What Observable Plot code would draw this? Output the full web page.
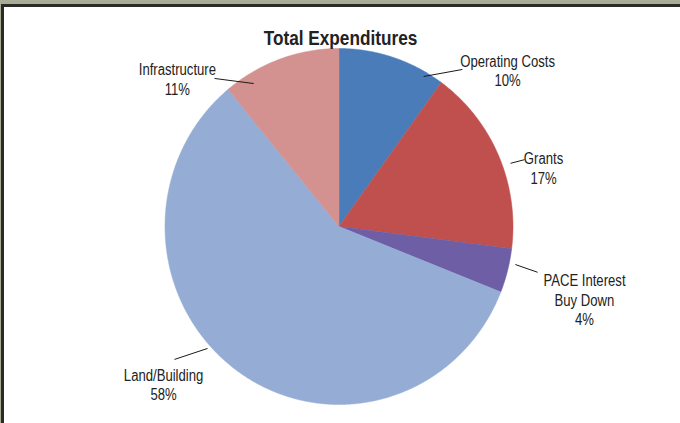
<!DOCTYPE html>
<html>
<head>
<meta charset="utf-8">
<script src="https://cdn.jsdelivr.net/npm/d3@7"></script>
<script src="https://cdn.jsdelivr.net/npm/@observablehq/plot@0.6"></script>
<style>
  html, body { margin: 0; padding: 0; background: #fff; overflow: hidden; }
  #wrap { position: relative; width: 680px; height: 423px; }
  #wrap svg { position: absolute; left: 0; top: 0; }
  .band-top { position: absolute; left: 0; top: 0; width: 680px; height: 4px; background: #a9ad97; }
  .line-top { position: absolute; left: 1px; top: 4px; width: 679px; height: 3px; background: #2a2a26; }
  .band-left { position: absolute; left: 0; top: 0; width: 1px; height: 423px; background: #a9ad97; }
  .line-left { position: absolute; left: 1px; top: 4px; width: 3px; height: 419px; background: #2a2a26; }
</style>
</head>
<body>
<div id="wrap"></div>
<script>
// ---- data ----
const categories = ["Operating Costs", "Grants", "PACE Interest Buy Down", "Land/Building", "Infrastructure"];
const labelTexts = ["Operating Costs", "Grants", "PACE Interest\nBuy Down", "Land/Building", "Infrastructure"];
const shares = [10, 17, 4, 58, 11];
const colors = ["#4b7cba", "#c0504d", "#6d5ea6", "#95add5", "#d39290"];
const titleText = "Total Expenditures";

// ---- label layout (polar: degrees clockwise from top, radius in pie radii) ----
const labelAngle = [47.8, 74.3, 106.2, 228.7, 311.8];
const labelRadius = [1.308, 1.221, 1.469, 1.342, 1.246];
const leaderStartAngle = [30.0, 70.2, 101.9, 227.8, 328.6];
const leaderStartRadius = [0.973, 1.048, 1.036, 1.020, 0.941];
const leaderEndAngle = [38.8, 70.6, 102.7, 231.7, 319.3];
const leaderEndRadius = [1.132, 1.13, 1.170, 1.205, 1.097];

// ---- build geometry in pie-radius units ----
const total = d3.sum(shares);
const rad = d => d * Math.PI / 180;
const polar = (a, r) => [r * Math.sin(rad(a)), r * Math.cos(rad(a))];

const slicePts = [];
let acc = 0;
categories.forEach((c, i) => {
  const a0 = acc / total * 360;
  acc += shares[i];
  const a1 = acc / total * 360;
  const n = Math.max(2, Math.ceil((a1 - a0) / 0.5));
  slicePts.push({cat: c, x: 0, y: 0});
  for (let k = 0; k <= n; k++) {
    const [x, y] = polar(a0 + (a1 - a0) * k / n, 1);
    slicePts.push({cat: c, x, y});
  }
  slicePts.push({cat: c, x: 0, y: 0});
});

const labels = categories.map((c, i) => {
  const [x, y] = polar(labelAngle[i], labelRadius[i]);
  return {cat: c, x, y, text: `${labelTexts[i]}\n${shares[i]}%`};
});
const leaders = categories.map((c, i) => {
  const [x1, y1] = polar(leaderStartAngle[i], leaderStartRadius[i]);
  const [x2, y2] = polar(leaderEndAngle[i], leaderEndRadius[i]);
  return {cat: c, x1, y1, x2, y2};
});

const font = "'Liberation Sans', Arial, sans-serif";

const chart = Plot.plot({
  width: 680,
  height: 423,
  margin: 0,
  style: {background: "transparent", fontFamily: font},
  x: {domain: [-338.5 / 174, 341.5 / 174], axis: null},
  y: {domain: [-(423 - 226) / 178, 226 / 178], axis: null},
  color: {domain: categories, range: colors},
  marks: [
    Plot.line(slicePts, {x: "x", y: "y", z: "cat", fill: "cat", stroke: "cat", strokeWidth: 0.5, curve: "linear"}),
    Plot.link(leaders, {x1: "x1", y1: "y1", x2: "x2", y2: "y2", stroke: "#1a1a1a", strokeWidth: 1}),
    Plot.text(labels, {x: "x", y: "y", text: "text", fontSize: 16, lineHeight: 1.22, fill: "#222", fontFamily: font, className: "narrow"}),
    Plot.text([titleText], {frameAnchor: "top", lineAnchor: "middle", dy: 38, text: d => d, fontSize: 21, fontWeight: "bold", fill: "#222", fontFamily: font, className: "narrow"})
  ]
});

// condense text horizontally (Arial Narrow look) around each anchor
chart.querySelectorAll(".narrow text").forEach(t => {
  const tr = t.getAttribute("transform") || "";
  t.setAttribute("transform", tr + " scale(0.82,1)");
});

const wrap = document.getElementById("wrap");
wrap.appendChild(chart);
["band-top", "line-top", "band-left", "line-left"].forEach(cls => {
  const d = document.createElement("div");
  d.className = cls;
  wrap.appendChild(d);
});
</script>
</body>
</html>
